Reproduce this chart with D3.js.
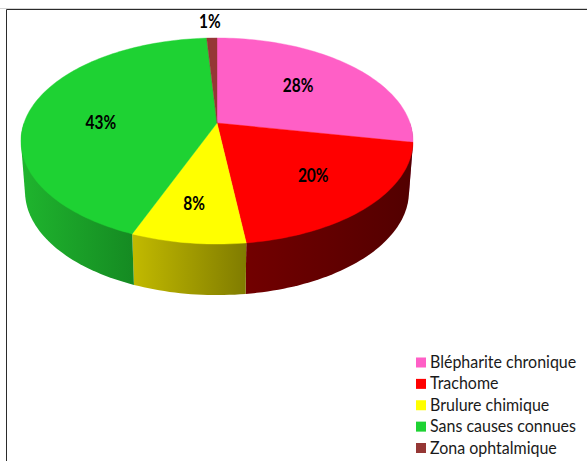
<!DOCTYPE html>
<html>
<head>
<meta charset="utf-8">
<script src="https://cdn.jsdelivr.net/npm/d3@7"></script>
<style>
  html, body { margin: 0; padding: 0; background: #fff; }
  svg { display: block; }
</style>
</head>
<body>
<div id="chart"></div>
<script>
const categories = ["Blépharite chronique", "Trachome", "Brulure chimique", "Sans causes connues", "Zona ophtalmique"];
const values = [28, 20, 8, 43, 1];
const colors = ["#ff5fc6", "#ff0000", "#ffff00", "#1ed233", "#953735"];
// side wall shading, left then right end of each slice
const sideLeft = ["#a03a7c", "#720000", "#c2ba00", "#1fb52e", "#5e2120"];
const sideRight = ["#a03a7c", "#520000", "#807c00", "#158a22", "#5e2120"];
// label placement along the radius, and small nudges
const labelRadius = [0.58, 0.66, 0.72, 0.62, 1.23];
const labelNudgeX = [0, 1, -3, 0, -1];
const labelNudgeY = [-3, 0, -1, 9, 0];

const width = 587, height = 461;

const svg = d3.select("#chart").append("svg")
    .attr("width", width)
    .attr("height", height);

// chart frame, open on the right and at the bottom
svg.append("path")
    .attr("d", `M0,8.5H${width}`)
    .attr("stroke", "#d4d4d4");
svg.append("path")
    .attr("d", `M6.5,${height}V9.5H${width}`)
    .attr("fill", "none")
    .attr("stroke", "#2b2b2b")
    .attr("stroke-width", 1);

// perspective projection of the unit circle, top face and bottom face
const persp = -0.1748;
function project(u, v, top) {
    const w = 1 + persp * v;
    return top
        ? [217 + 193 * u / w, (78.4 * v + 123) / w]
        : [217 + 189 * u / w, (70 * v + 173.5) / w];
}

const pie = d3.pie().sort(null).value(d => d);
const arcs = pie(values);

function rimPoints(a0, a1, top) {
    const steps = Math.max(2, Math.ceil((a1 - a0) * 40));
    return d3.range(steps + 1).map(i => {
        const a = a0 + (a1 - a0) * i / steps;
        return project(Math.sin(a), -Math.cos(a), top);
    });
}

const line = d3.line();
const defs = svg.append("defs");

// side walls, only the front half of the pie shows them
const front0 = Math.PI * 0.5, front1 = Math.PI * 1.5;
arcs.forEach((d, i) => {
    const a0 = Math.max(d.startAngle, front0), a1 = Math.min(d.endAngle, front1);
    if (a1 <= a0) return;
    const t = rimPoints(a0, a1, true), b = rimPoints(a0, a1, false);
    const xs = t.concat(b).map(p => p[0]);
    const grad = defs.append("linearGradient")
        .attr("id", "side" + i)
        .attr("gradientUnits", "userSpaceOnUse")
        .attr("x1", d3.min(xs)).attr("x2", d3.max(xs))
        .attr("y1", 0).attr("y2", 0);
    grad.append("stop").attr("offset", 0).attr("stop-color", sideLeft[i]);
    grad.append("stop").attr("offset", 1).attr("stop-color", sideRight[i]);
    // hull closes the wall straight down from the widest point of the rim
    svg.append("path")
        .attr("d", line(d3.polygonHull(t.concat(b))) + "Z")
        .attr("fill", `url(#side${i})`);
});

// top face
arcs.forEach((d, i) => {
    const pts = [project(0, 0, true)].concat(rimPoints(d.startAngle, d.endAngle, true));
    svg.append("path")
        .attr("d", line(pts) + "Z")
        .attr("fill", colors[i])
        .attr("stroke", colors[i])
        .attr("stroke-width", 0.4);
});

// narrows Lato towards the reference's tighter letterforms
function squeeze(sel, k) {
    sel.each(function () {
        d3.select(this)
            .attr("textLength", this.getComputedTextLength() * k)
            .attr("lengthAdjust", "spacingAndGlyphs");
    });
}

// percent labels
arcs.forEach((d, i) => {
    const a = (d.startAngle + d.endAngle) / 2, r = labelRadius[i];
    const p = project(r * Math.sin(a), -r * Math.cos(a), true);
    svg.append("text")
        .attr("x", p[0] + labelNudgeX[i])
        .attr("y", p[1] + labelNudgeY[i] + 6.5)
        .attr("text-anchor", "middle")
        .style("font", "bold 18px Lato, sans-serif")
        .attr("fill", "#000")
        .text(d.data + "%")
        .call(squeeze, 0.86);
});

// legend
const legendY = d3.scalePoint()
    .domain(categories)
    .range([362.5, 448]);

const legend = svg.selectAll(".legend")
    .data(categories)
    .enter()
    .append("g")
    .attr("class", "legend")
    .attr("transform", d => `translate(416,${legendY(d)})`);

legend.append("rect")
    .attr("x", 0)
    .attr("y", -5)
    .attr("width", 10)
    .attr("height", 10)
    .attr("fill", (d, i) => colors[i]);

legend.append("text")
    .attr("x", 14)
    .attr("y", 5.5)
    .style("font", "17px Lato, sans-serif")
    .attr("fill", "#1a1a1a")
    .text(d => d)
    .call(squeeze, 0.94);
</script>
</body>
</html>
